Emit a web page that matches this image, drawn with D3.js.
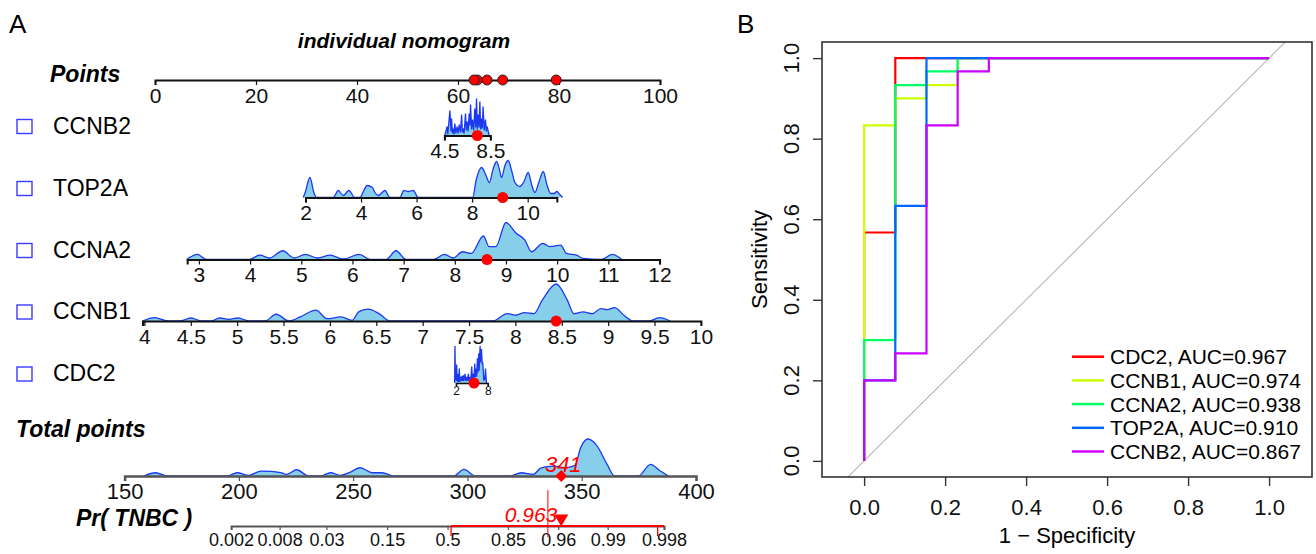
<!DOCTYPE html>
<html>
<head>
<meta charset="utf-8">
<script src="https://cdn.jsdelivr.net/npm/d3@7"></script>
<style>
  body { margin: 0; background: #fff; }
  svg { display: block; }
</style>
</head>
<body>
<svg id="fig" width="1316" height="554"></svg>
<script>
// ---------------- data: panel A (nomogram) ----------------
const varNames = ["CCNB2", "TOP2A", "CCNA2", "CCNB1", "CDC2"];

// value -> points: [value1, value2, points at value1, points at value2]
const varMap = {
  CCNB2: [4.5, 8.5, 57.3, 66.4],
  TOP2A: [2, 10, 29.8, 73.8],
  CCNA2: [3, 12, 8.7, 99.9],
  CCNB1: [4, 10, -2.1, 108.1],
  CDC2:  [2, 8, 59.6, 65.9]
};
// extent of each axis line
const varLine = {
  CCNB2: [4.5, 8.5],
  TOP2A: [2, 11.05],
  CCNA2: [2.77, 12],
  CCNB1: [3.98, 10],
  CDC2:  [2, 8]
};
const varTicks = {
  CCNB2: [4.5, 8.5],
  TOP2A: [2, 4, 6, 8, 10],
  CCNA2: [3, 4, 5, 6, 7, 8, 9, 10, 11, 12],
  CCNB1: [4, 4.5, 5, 5.5, 6, 6.5, 7, 7.5, 8, 8.5, 9, 9.5, 10],
  CDC2:  [2, 8]
};
// this individual's values
const patient = { CCNB2: 7.37, TOP2A: 9.1, CCNA2: 8.63, CCNB1: 8.44, CDC2: 5.4 };

// density outlines [value, relative height]
const densCCNB2 = [[4.54,0],[4.74,9],[4.8,1],[4.98,25],[5.08,4],[5.13,17],[5.2,2],[5.27,7],[5.34,1],[5.41,12],
  [5.5,2],[5.61,9],[5.7,2],[5.79,11],[5.9,3],[6.0,21],[6.07,3],[6.13,7],[6.22,2],[6.34,22],[6.41,5],[6.48,14],
  [6.57,4],[6.66,22],[6.72,10],[6.78,31],[6.87,6],[6.95,16],[7.05,5],[7.15,27],[7.23,8],[7.3,37],[7.37,6],
  [7.44,21],[7.52,8],[7.59,34],[7.66,6],[7.73,17],[7.8,7],[7.87,29],[7.97,5],[8.08,16],[8.15,4],[8.22,9],[8.4,0]];
const densTOP2A = [[1.92,0],[2.0,6],[2.16,20],[2.3,5],[2.4,0],[3.0,0],[3.18,7],[3.36,2],[3.56,7],[3.78,0],
  [3.96,0],[4.1,7],[4.22,12],[4.41,10],[4.5,5],[4.62,2],[4.86,7],[5.04,0],[5.4,0],[5.54,7],[5.7,6],[5.88,7],
  [6.06,0],[8.02,0],[8.15,18],[8.34,30],[8.5,22],[8.62,15],[8.75,28],[8.88,36],[9.0,26],[9.06,20],[9.18,32],
  [9.3,37],[9.42,27],[9.54,15],[9.72,11],[9.85,15],[10.02,25],[10.15,12],[10.26,5],[10.4,15],[10.56,26],
  [10.7,12],[10.83,4],[10.95,4],[11.05,6],[11.15,3],[11.26,0]];
const densCCNA2 = [[2.76,0],[2.97,5],[3.15,0],[3.98,0],[4.19,4.3],[4.38,1.5],[4.64,8.7],[4.86,1.5],[5.08,5],
  [5.32,1.5],[5.56,4.3],[5.82,0.5],[6.13,5],[6.35,0],[6.66,0],[6.85,8.7],[7.05,0],[7.58,0],[7.8,5],[7.97,1.5],
  [8.15,7.7],[8.32,6],[8.56,23.3],[8.67,12.7],[8.8,12.7],[9.0,36.7],[9.2,26],[9.37,19.3],[9.5,7.7],[9.72,16],
  [9.86,12.7],[10.07,14.3],[10.18,6],[10.38,4.3],[10.51,1],[10.86,0],[11.08,5],[11.26,0]];
const densCCNB1 = [[3.98,0],[4.11,3.3],[4.26,0],[4.38,0],[4.5,3],[4.62,0],[4.72,0],[4.81,3],[4.91,1.7],[5.01,3],
  [5.13,0],[5.3,0],[5.42,6.7],[5.56,0],[5.68,4],[5.85,10.7],[5.97,2.3],[6.12,4],[6.24,0.7],[6.31,9],[6.41,11.7],
  [6.53,7.3],[6.65,0],[7.76,0],[7.91,7.3],[8.0,5.7],[8.1,8.3],[8.2,7.3],[8.29,20.7],[8.44,36.7],[8.56,20.7],
  [8.63,7.3],[8.73,9],[8.83,7.3],[8.92,12.3],[8.99,11.3],[9.07,13.3],[9.17,5.7],[9.27,0],[9.44,0],[9.55,3.3],[9.67,0]];
const densCDC2 = [[1.75,0],[1.81,36],[1.9,3],[2.0,10],[2.07,2],[2.13,18],[2.22,2],[2.32,5],[2.38,1],[2.44,9],
  [2.52,1],[2.63,14],[2.72,1],[2.88,6],[3.0,2],[3.14,7],[3.26,2],[3.39,7.5],[3.5,2],[3.71,9],[3.85,2],[4.02,6],
  [4.15,2],[4.34,9],[4.45,2],[4.65,6],[4.8,3],[4.97,16],[5.08,4],[5.29,9],[5.4,4],[5.54,19],[5.62,6],[5.79,14],
  [5.9,6],[6.04,24],[6.12,10],[6.3,29],[6.37,12],[6.55,36],[6.62,20],[6.8,33],[6.95,18],[7.05,20],[7.24,3],
  [7.43,3],[7.56,14],[7.75,0]];
const densTotal = [[158.4,0],[163.6,3.3],[168.8,0],[194.9,0],[199.2,3.3],[204.4,0.7],[209.7,5],[214,4.7],
  [218.3,3.3],[221,1.7],[225.3,6.3],[230.5,0],[235.7,0],[240.1,3.3],[244.5,0.7],[248.8,4],[253.1,8.3],[258.4,3.3],
  [262.7,3.3],[267.9,0],[294,0],[298.4,6.7],[303.6,0],[318.4,0],[323.6,3.3],[328.8,1.7],[332.3,8.3],[337.5,10],
  [342.7,8.3],[347.1,10.7],[349.6,29],[352.8,37.3],[356.6,30.7],[361,12.3],[364.4,0],[374.8,0],[380.1,11.7],
  [384.4,5],[387.9,0]];
const varDens = { CCNB2: densCCNB2, TOP2A: densTOP2A, CCNA2: densCCNA2, CCNB1: densCCNB1, CDC2: densCDC2 };
const spiky = ["CCNB2", "CDC2"];

const pointsTicks = [0, 20, 40, 60, 80, 100];
const totalTicks = [150, 200, 250, 300, 350, 400];
const prTicks = [0.002, 0.008, 0.03, 0.15, 0.5, 0.85, 0.96, 0.99, 0.998];
const prSlope = 0.0656, prMidTotal = 291.3;   // logit(p) = slope * (total - mid)
const prCI = [0.525, 0.9976];
const refTotal = 335.2;

// ---------------- data: panel B (ROC) ----------------
const rocNames = ["CDC2", "CCNB1", "CCNA2", "TOP2A", "CCNB2"];
const rocAUC = [0.967, 0.974, 0.938, 0.910, 0.867];
const rocColors = ["#FF0000", "#CCFF00", "#00FF66", "#0066FF", "#CC00FF"];
const rocFpr = [
  [0, 0, 0.077, 0.077, 1],
  [0, 0, 0.077, 0.077, 0.154, 0.154, 0.231, 0.231, 1],
  [0, 0, 0.077, 0.077, 0.154, 0.154, 0.231, 0.231, 1],
  [0, 0, 0.077, 0.077, 0.154, 0.154, 1],
  [0, 0, 0.077, 0.077, 0.154, 0.154, 0.231, 0.231, 0.308, 0.308, 1]
];
const rocTpr = [
  [0, 0.567, 0.567, 1, 1],
  [0, 0.833, 0.833, 0.9, 0.9, 0.933, 0.933, 1, 1],
  [0, 0.3, 0.3, 0.933, 0.933, 0.967, 0.967, 1, 1],
  [0, 0.2, 0.2, 0.633, 0.633, 1, 1],
  [0, 0.2, 0.2, 0.267, 0.267, 0.833, 0.833, 0.967, 0.967, 1, 1]
];
const rocTicks = [0, 0.2, 0.4, 0.6, 0.8, 1.0];

// ---------------- layout ----------------
const FONT = '"Liberation Sans", Arial, Helvetica, sans-serif';
const svg = d3.select("#fig").attr("font-family", FONT);
svg.append("rect").attr("width", 1316).attr("height", 554).attr("fill", "#fff");

const ptsX = d3.scaleLinear().domain([0, 100]).range([155, 660]);
const totX = d3.scaleLinear().domain([150, 400]).range([124.6, 696]);
const rowY = { CCNB2: 135.5, TOP2A: 197.5, CCNA2: 259.5, CCNB1: 321, CDC2: 383 };
const pointsY = 80, totalY = 476, prY = 526;
const densH = 37;
const BLUE = "#1c39f0";

function pointsOf(name, v) {
  const m = varMap[name];
  return d3.scaleLinear().domain([m[0], m[1]]).range([m[2], m[3]])(v);
}
function varScale(name) {
  const ext = varLine[name];
  return d3.scaleLinear().domain(ext).range(ext.map(v => ptsX(pointsOf(name, v))));
}

function drawAxis(scale, ticks, y, o) {
  const ax = d3.axisBottom(scale)
    .tickValues(ticks)
    .tickSizeOuter(0)
    .tickSize(o.tick)
    .tickPadding(o.pad)
    .tickFormat(o.fmt || (d => String(d)));
  const g = svg.append("g").attr("transform", `translate(0,${y})`).call(ax)
    .attr("font-family", FONT).attr("font-size", o.fs);
  g.select(".domain").attr("stroke", o.color || "#111").attr("stroke-width", o.sw || 2);
  g.selectAll(".tick line").attr("stroke", o.color || "#111").attr("stroke-width", 1.2);
  g.selectAll(".tick text").attr("fill", "#111");
  return g;
}

function drawDensity(data, xs, y0, linear) {
  const hs = d3.scaleLinear().domain([0, d3.max(data, d => d[1])]).range([0, densH]);
  const curve = linear ? d3.curveLinear : d3.curveMonotoneX;
  svg.append("path").datum(data)
    .attr("d", d3.area().x(d => xs(d[0])).y0(y0).y1(d => y0 - hs(d[1])).curve(curve))
    .attr("fill", "#87CEEB");
  svg.append("path").datum(data)
    .attr("d", d3.line().x(d => xs(d[0])).y(d => y0 - hs(d[1])).curve(curve))
    .attr("fill", "none").attr("stroke", BLUE).attr("stroke-width", 1.3);
}

// ---------------- panel A ----------------
svg.append("text").attr("x", 9).attr("y", 33).attr("font-size", 26).text("A");
svg.append("text").attr("x", 404).attr("y", 48).attr("text-anchor", "middle")
  .attr("font-size", 21).attr("font-weight", "bold").attr("font-style", "italic")
  .text("individual nomogram");

// Points row
svg.append("text").attr("x", 50).attr("y", 82).attr("font-size", 23)
  .attr("font-weight", "bold").attr("font-style", "italic").text("Points");
drawAxis(ptsX, pointsTicks, pointsY, { tick: 5, pad: 2.6, fs: 21 });

const patientPts = varNames.map(n => pointsOf(n, patient[n]));
svg.selectAll(".ptdot").data(patientPts).enter().append("circle")
  .attr("class", "ptdot")
  .attr("cx", d => ptsX(d)).attr("cy", pointsY).attr("r", 5)
  .attr("fill", "#FF0000").attr("stroke", "#222").attr("stroke-width", 1);

// variable rows
varNames.forEach(name => {
  const xs = varScale(name);
  const y = rowY[name];
  svg.append("rect").attr("x", 17).attr("y", y - 16).attr("width", 15).attr("height", 14)
    .attr("fill", "none").attr("stroke", "#3b3bff").attr("stroke-width", 1.4);
  svg.append("text").attr("x", 53).attr("y", y - 2).attr("font-size", 23).text(name);

  drawDensity(varDens[name], xs, y, spiky.includes(name));
  const small = name === "CDC2";
  drawAxis(xs, varTicks[name], y, small ? { tick: 3, pad: 0.8, fs: 12, sw: 1.5 } : { tick: 5, pad: 2.6, fs: 21 });
  svg.append("circle").attr("cx", xs(patient[name])).attr("cy", y).attr("r", 5.5).attr("fill", "#FF0000");
});

// Total points row
const totalPts = d3.sum(patientPts);
svg.append("text").attr("x", 16).attr("y", 437).attr("font-size", 23)
  .attr("font-weight", "bold").attr("font-style", "italic").text("Total points");
drawDensity(densTotal, totX, totalY, false);
drawAxis(totX, totalTicks, totalY, { tick: 5, pad: 2.2, fs: 22, color: "#555", sw: 2.5 });
svg.append("path")
  .attr("d", d3.symbol(d3.symbolSquare, 72)())
  .attr("transform", `translate(${totX(totalPts)},${totalY}) rotate(45)`)
  .attr("fill", "#FF0000");
svg.append("text").attr("x", totX(totalPts) + 2).attr("y", 471.5).attr("text-anchor", "middle")
  .attr("font-size", 22).attr("font-style", "italic").attr("fill", "#FF0000")
  .text(Math.round(totalPts));

// Pr( TNBC ) row
const logit = p => Math.log(p / (1 - p));
const prX = p => totX(prMidTotal + logit(p) / prSlope);
const prScale = d3.scaleLinear()
  .domain([logit(prTicks[0]), logit(prTicks[prTicks.length - 1])])
  .range([prX(prTicks[0]), prX(prTicks[prTicks.length - 1])]);
svg.append("text").attr("x", 76).attr("y", 526).attr("font-size", 23)
  .attr("font-weight", "bold").attr("font-style", "italic").text("Pr( TNBC )");
drawAxis(prScale, prTicks.map(logit), prY, { tick: 4, pad: 3, fs: 18, fmt: (d, i) => String(prTicks[i]), color: "#555", sw: 2 });

const prVal = 1 / (1 + Math.exp(-prSlope * (totalPts - prMidTotal)));
// reference line
svg.append("line").attr("x1", totX(refTotal)).attr("x2", totX(refTotal))
  .attr("y1", 490).attr("y2", 537).attr("stroke", "#FF0000").attr("stroke-width", 1);
// interval
svg.append("line").attr("x1", prX(prCI[0])).attr("x2", prX(prTicks[prTicks.length - 1]))
  .attr("y1", prY).attr("y2", prY).attr("stroke", "#FF0000").attr("stroke-width", 2);
prCI.forEach(p => {
  svg.append("line").attr("x1", prX(p)).attr("x2", prX(p))
    .attr("y1", prY).attr("y2", prY + 10).attr("stroke", "#FF0000").attr("stroke-width", 1.3);
});
svg.append("path")
  .attr("d", d3.symbol(d3.symbolTriangle, 85)())
  .attr("transform", `translate(${prX(prVal)},${prY - 7.5}) rotate(180)`)
  .attr("fill", "#FF0000");
svg.append("text").attr("x", prX(prVal) - 4).attr("y", 521.5).attr("text-anchor", "end")
  .attr("font-size", 21).attr("font-style", "italic").attr("fill", "#FF0000")
  .text(prVal.toFixed(3));

// ---------------- panel B ----------------
const rocX = d3.scaleLinear().domain([-0.104, 1.106]).range([822, 1312]);
const rocY = d3.scaleLinear().domain([-0.04, 1.04]).range([477, 42]);

svg.append("text").attr("x", 737).attr("y", 33).attr("font-size", 26).text("B");

svg.append("clipPath").attr("id", "rocClip").append("rect")
  .attr("x", rocX(-0.104)).attr("y", rocY(1.04))
  .attr("width", rocX(1.106) - rocX(-0.104)).attr("height", rocY(-0.04) - rocY(1.04));

const plot = svg.append("g").attr("clip-path", "url(#rocClip)");
plot.append("line")
  .attr("x1", rocX(-0.2)).attr("y1", rocY(-0.2)).attr("x2", rocX(1.2)).attr("y2", rocY(1.2))
  .attr("stroke", "#b5b5b5").attr("stroke-width", 1.1);

const rocLine = d3.line().x(d => rocX(d[0])).y(d => rocY(d[1]));
rocNames.forEach((n, i) => {
  const pts = rocFpr[i].map((f, j) => [f, rocTpr[i][j]]);
  plot.append("path").datum(pts).attr("d", rocLine)
    .attr("fill", "none").attr("stroke", rocColors[i]).attr("stroke-width", 2.2);
});

svg.append("rect")
  .attr("x", rocX(-0.104)).attr("y", rocY(1.04))
  .attr("width", rocX(1.106) - rocX(-0.104)).attr("height", rocY(-0.04) - rocY(1.04))
  .attr("fill", "none").attr("stroke", "#333").attr("stroke-width", 1.6);

// x axis
const xAx = svg.append("g").attr("transform", `translate(0,${rocY(-0.04)})`)
  .call(d3.axisBottom(rocX).tickValues(rocTicks).tickSize(9).tickPadding(13.4).tickFormat(d3.format(".1f")))
  .attr("font-family", FONT).attr("font-size", 22);
xAx.select(".domain").remove();
xAx.selectAll(".tick line").attr("stroke", "#333").attr("stroke-width", 1.4);
xAx.selectAll(".tick text").attr("fill", "#111");

// y axis
const yAx = svg.append("g").attr("transform", `translate(${rocX(-0.104)},0)`)
  .call(d3.axisLeft(rocY).tickValues(rocTicks).tickSize(9).tickFormat(""));
yAx.select(".domain").remove();
yAx.selectAll(".tick line").attr("stroke", "#333").attr("stroke-width", 1.4);
svg.selectAll(".ylab").data(rocTicks).enter().append("text")
  .attr("class", "ylab")
  .attr("transform", d => `translate(799,${rocY(d)}) rotate(-90)`)
  .attr("text-anchor", "middle").attr("font-size", 22).attr("fill", "#111")
  .text(d => d3.format(".1f")(d));

svg.append("text").attr("x", (rocX(-0.104) + rocX(1.106)) / 2).attr("y", 543)
  .attr("text-anchor", "middle").attr("font-size", 22).text("1 \u2212 Specificity");
svg.append("text")
  .attr("transform", `translate(767,${(rocY(-0.04) + rocY(1.04)) / 2}) rotate(-90)`)
  .attr("text-anchor", "middle").attr("font-size", 22).text("Sensitivity");

// legend
const legTop = 356.7, legStep = 23.7;
rocNames.forEach((n, i) => {
  const y = legTop + i * legStep;
  svg.append("line").attr("x1", 1072).attr("x2", 1104).attr("y1", y).attr("y2", y)
    .attr("stroke", rocColors[i]).attr("stroke-width", 2.5);
  svg.append("text").attr("x", 1110).attr("y", y + 7.5).attr("font-size", 21)
    .text(`${n}, AUC=${rocAUC[i].toFixed(3)}`);
});
</script>
</body>
</html>
